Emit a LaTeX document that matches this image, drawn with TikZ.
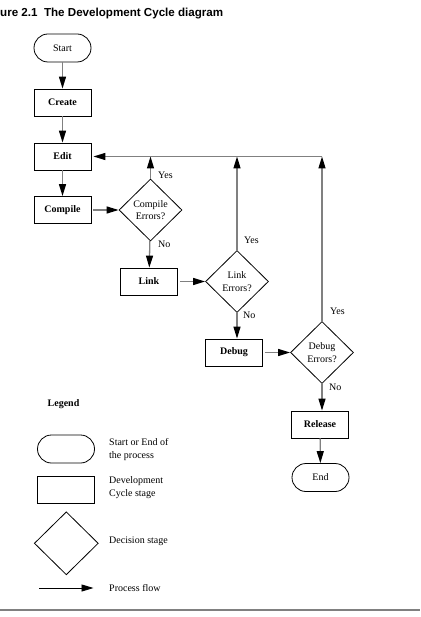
\documentclass[tikz,border=0pt]{standalone}
\usepackage{fontspec}
\setmainfont{Liberation Serif}
\newfontfamily\titlefont{Liberation Sans}
\usetikzlibrary{arrows.meta,shapes.geometric}

\tikzset{
  terminal/.style={draw, line width=0.8pt, rounded corners=14pt, minimum width=57pt, minimum height=28pt, inner sep=0pt},
  stage/.style={draw, line width=0.8pt, minimum width=57pt, minimum height=27pt, inner sep=0pt, font=\bfseries},
  decision/.style={draw, line width=0.8pt, diamond, minimum width=63pt, minimum height=62pt, inner sep=0pt, align=center},
  flow/.style={draw=black!50, line width=1.3pt, -{Triangle[length=12pt, width=7pt, color=black]}},
  lbl/.style={anchor=west, inner sep=0pt},
}

\begin{document}
\begin{tikzpicture}[x=1pt, y=-1pt, font=\fontsize{10}{12.3}\selectfont]
  \useasboundingbox (0,0) rectangle (420,617);
  \node[anchor=west, inner sep=0pt, font=\titlefont\bfseries\fontsize{11.6}{14}\selectfont] (title) at (0,14) {ure 2.1\ \ The Development Cycle diagram};

  % main cycle
  \node[terminal] (start) at (62.5,48) {Start};
  \node[stage] (create) at (62.5,102.5) {Create};
  \node[stage] (edit) at (62.5,156.5) {Edit};
  \node[stage] (compile) at (62.5,210) {Compile};
  \node[decision] (cdec) at (150.5,210) {Compile\\Errors?};
  \node[stage] (link) at (149,281.5) {Link};
  \node[decision] (ldec) at (237,281.5) {Link\\Errors?};
  \node[stage] (debug) at (234,352.5) {Debug};
  \node[decision] (ddec) at (322,352.5) {Debug\\Errors?};
  \node[stage] (release) at (320,424.5) {Release};
  \node[terminal] (end) at (320.5,477.5) {End};

  \draw[flow] (start) -- (create);
  \draw[flow] (create) -- (edit);
  \draw[flow] (edit) -- (compile);
  \draw[flow, shorten <=2pt] (compile) -- (cdec);
  \draw[flow] (cdec) -- (link);
  \draw[flow, shorten <=2pt] (link) -- (ldec);
  \draw[flow] (ldec.south) -- (ldec.south |- debug.north);
  \draw[flow, shorten <=2pt] (debug) -- (ddec);
  \draw[flow] (ddec.south) -- (ddec.south |- release.north);
  \draw[flow] (release) -- (end);

  % back to Edit
  \coordinate (loop) at (ddec.north |- edit.east);
  \draw[flow] (cdec.north) -- (cdec.north |- edit.east);
  \draw[flow] (ldec.north) -- (ldec.north |- edit.east);
  \draw[flow] (ddec.north) -- (loop);
  \draw[flow, shorten >=2pt] (loop) -- (edit.east);

  \node[lbl] (cyes) at (158,175.5) {Yes};
  \node[lbl] (cno) at (158,244) {No};
  \node[lbl] (lyes) at (244,240) {Yes};
  \node[lbl] (lno) at (243,315) {No};
  \node[lbl] (dyes) at (330,311.5) {Yes};
  \node[lbl] (dno) at (329,387.5) {No};

  % legend
  \node[font=\bfseries] (legend) at (63.5,404) {Legend};
  \node[terminal] (kterm) at (66,449) {};
  \node[lbl, align=left] (kterm-txt) at (109,449.5) {Start or End of\\the process};
  \node[stage] (kstage) at (66,489.5) {};
  \node[lbl, align=left] (kstage-txt) at (109,487.5) {Development\\Cycle stage};
  \node[decision, minimum width=64pt, minimum height=63pt] (kdec) at (66.3,543.3) {};
  \node[lbl] (kdec-txt) at (109,541.7) {Decision stage};
  \coordinate (kflow-a) at (39,588);
  \coordinate (kflow-b) at (93.5,588);
  \draw[flow, draw=black, line width=0.9pt] (kflow-a) -- (kflow-b);
  \node[lbl] (kflow-txt) at (109,588) {Process flow};

  \draw[black!50, line width=1.3pt] (0,610) -- (420,610);
\end{tikzpicture}
\end{document}
